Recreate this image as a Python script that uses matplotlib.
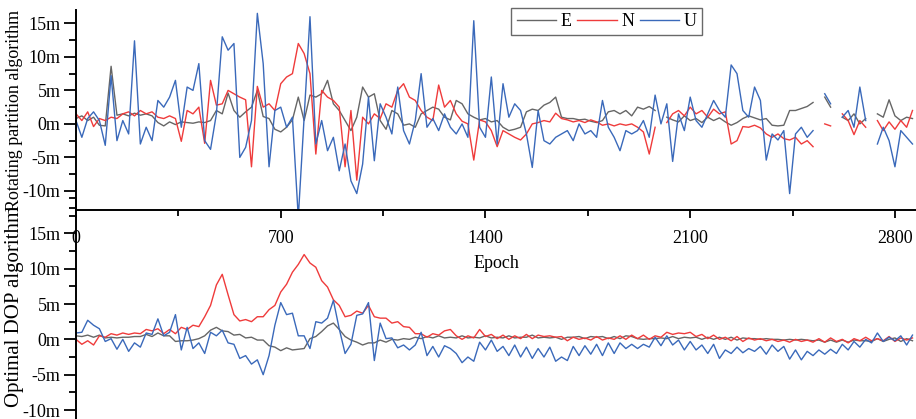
import numpy as np
import matplotlib
matplotlib.use("Agg")
import matplotlib.pyplot as plt
from matplotlib.ticker import MultipleLocator, FuncFormatter

plt.rcParams['font.family'] = 'Liberation Serif'
plt.rcParams['font.size'] = 13

nan = np.nan

# one sample every 20 epochs
epoch = np.arange(0, 2880, 20)

# rotating partition algorithm, E / N / U error in metres
e_rot = [0.8, 1.2, 0.5, 1.0, -0.2, -0.3, 8.6, 1.3, 1.5, 1.2,
         1.6, 1.3, 1.5, 1.2, 0.2, -0.3, 0.3, -0.1, 0.3, 0.2,
         0.1, 0.3, 0.2, 0.5, 2.0, 1.5, 4.6, 2.0, 1.0, 1.8,
         2.5, 5.0, 1.1, 0.8, -0.8, -1.2, -0.5, 0.6, 4.0, 0.5,
         4.3, 4.0, 4.5, 6.5, 3.0, 2.0, 0.5, -1.0, 1.0, 5.5,
         4.0, 4.5, 0.5, -0.8, 2.0, 1.5, -0.2, 0.0, -0.5, 1.5,
         2.0, 2.5, 2.2, 1.0, 0.6, 3.5, 3.0, 1.5, 1.0, 0.6,
         0.8, 0.3, 0.5, -0.5, -1.0, -0.8, -0.5, 1.8, 2.2, 2.0,
         2.8, 3.2, 4.0, 1.0, 0.8, 0.8, 0.6, 0.7, 0.4, 0.2,
         0.5, 1.8, 2.0, 1.5, 2.0, 1.2, 2.5, 2.2, 2.6, 2.0,
         nan, 1.0, 0.6, 0.3, 1.2, 0.5, 0.8, 0.2, 1.0, 0.5,
         0.9, 0.3, -0.2, 0.2, 0.8, 1.2, 0.9, 0.6, 0.8, -0.2,
         -0.3, -0.2, 2.0, 2.0, 2.3, 2.6, 3.2, nan, 4.0, 2.5,
         nan, 1.0, 0.5, 1.5, 0.0, 0.8, nan, 1.5, 1.0, 3.6,
         1.2, 0.5, 1.0, 0.8]
n_rot = [1.5, 0.5, 1.8, -0.4, 0.8, 0.5, 1.0, 0.8, 1.5, 1.8,
         1.2, 2.0, 1.5, 1.8, 1.0, 0.8, 1.2, 0.8, -2.6, 2.0,
         1.5, 2.5, -2.9, 6.5, 2.8, 3.0, 5.0, 4.5, 4.0, 3.6,
         -6.4, 5.6, 2.5, 3.0, 2.0, 6.0, 7.0, 7.5, 12.0, 10.5,
         7.5, -4.5, 5.0, 4.0, 3.5, 2.5, -6.4, 2.0, -8.4, 1.0,
         0.0, 1.5, 0.8, 3.0, 2.5, 5.0, 6.0, 4.0, 3.5, 2.0,
         1.0, 0.5, 5.8, 2.5, 3.5, 1.5, 0.4, 0.0, -5.4, 0.6,
         0.3, -1.0, -3.4, -1.0, -1.5, -2.0, -2.4, -1.5, 0.0, 0.2,
         0.5, 0.3, 1.6, 0.8, 0.6, 0.3, 0.5, 0.2, 0.6, 0.3,
         -0.2, 0.0, -0.3, 0.0, -0.2, 0.0, -0.5, -1.2, -4.5, -0.5,
         nan, 0.2, 1.5, 2.0, 1.2, 2.5, 1.5, 2.0, 1.0, 2.2,
         1.5, 1.8, -3.0, -2.5, -0.4, -0.5, -0.2, -0.6, -1.5, -2.0,
         -1.5, -2.2, -2.4, -2.0, -3.0, -2.5, -3.4, nan, 0.0, -0.3,
         nan, 1.5, 0.5, -1.6, 0.5, -0.5, nan, 0.5, -1.0, 0.3,
         -0.8, 0.5, -0.5, 2.0]
u_rot = [0.5, -2.0, 0.8, 1.8, 0.5, -3.2, 7.2, -2.5, 0.5, -1.5,
         12.4, -3.0, -0.5, -2.5, 3.5, 2.5, 4.0, 6.5, -0.5, 5.5,
         5.0, 9.0, -2.5, -3.8, 1.5, 13.0, 11.0, 12.0, -5.0, -3.5,
         0.5, 16.5, 9.0, -6.4, 2.0, 2.5, -0.5, 1.0, -14.0, 1.0,
         16.0, -3.0, 0.5, -4.0, -2.0, -7.0, -3.0, -8.5, -10.4, -6.0,
         4.0, -5.5, 3.0, 1.0, -1.5, 5.5, -1.0, -3.0, 0.5, 7.5,
         -0.5, 0.8, -1.0, 1.5, -0.5, -1.5, 0.0, -2.0, 15.4, -0.5,
         -2.0, 7.0, -3.0, 6.0, 1.0, 3.0, 2.0, -1.5, -6.5, 2.0,
         -2.5, -3.0, -2.0, -1.5, -1.0, -2.5, 0.0, -1.5, -1.0, -2.0,
         3.5, -0.5, -2.0, -4.0, -1.0, -1.5, -1.0, 0.5, -2.0, 4.3,
         0.0, 3.0, -5.6, 1.5, -1.0, 4.0, 0.5, -0.5, 1.5, 3.5,
         2.0, 1.0, 8.8, 7.5, 2.0, 1.0, 5.5, 3.5, -5.4, -1.5,
         -2.4, -1.0, -10.4, -1.5, -0.5, -2.0, -1.0, nan, 4.5, 3.0,
         nan, 1.0, 2.0, -0.5, 5.5, 0.5, nan, -3.0, -0.5, -2.5,
         -6.4, -1.0, -2.0, -3.0]

# optimal DOP algorithm, E / N / U error in metres
e_dop = [0.5, 0.4, 0.6, 0.3, 0.6, 0.2, 0.3, 0.2, 0.3, 0.3,
         0.4, 0.4, 0.7, 0.4, 0.9, 0.5, 0.5, -0.3, -0.2, -0.2,
         -0.1, 0.1, 0.5, 1.3, 1.7, 1.2, 1.1, 0.6, 0.7, 0.2,
         0.3, -0.1, -0.1, -0.9, -1.1, -1.6, -1.2, -1.5, -1.4, -1.3,
         0.1, 0.4, 1.1, 1.9, 2.3, 1.4, 0.4, -0.1, -0.4, -0.8,
         -0.5, -0.5, -0.1, -0.4, 0.0, -0.1, 0.1, 0.0, 0.3, 0.1,
         0.4, 0.2, 0.5, 0.2, 0.3, 0.2, 0.5, 0.2, 0.3, 0.2,
         0.5, 0.2, 0.3, 0.2, 0.5, 0.2, 0.3, 0.3, 0.6, 0.2,
         0.3, 0.2, 0.3, 0.0, 0.3, 0.3, 0.4, 0.1, 0.4, 0.3,
         0.4, 0.1, 0.4, 0.1, 0.5, 0.4, 0.1, 0.0, 0.1, 0.1,
         0.2, 0.1, 0.4, 0.1, 0.3, 0.2, 0.3, 0.0, 0.3, 0.0,
         0.3, 0.0, 0.3, -0.1, 0.2, 0.1, 0.1, 0.0, 0.1, 0.0,
         0.0, -0.1, 0.0, -0.1, 0.0, -0.1, -0.2, -0.1, -0.4, -0.1,
         -0.4, -0.1, -0.4, -0.1, -0.2, -0.2, -0.3, 0.1, -0.3, 0.0,
         0.2, -0.3, 0.1, -0.2]
n_dop = [0.0, -0.7, -0.2, -0.8, 0.5, 0.3, 0.8, 0.6, 0.9, 0.7,
         0.9, 0.8, 1.4, 1.2, 1.5, 0.8, 1.4, 0.8, 1.7, 1.4,
         2.0, 1.8, 3.2, 4.8, 7.7, 9.2, 6.3, 3.5, 2.6, 2.8,
         2.5, 3.2, 3.2, 4.2, 4.8, 6.7, 7.8, 9.5, 10.6, 12.0,
         10.8, 10.2, 8.3, 7.4, 5.6, 4.8, 3.2, 3.4, 4.0, 3.7,
         4.8, 3.2, 3.0, 3.0, 2.3, 2.5, 1.8, 1.7, 0.8, 0.8,
         0.3, 0.8, 0.6, 1.2, 1.4, 0.5, 0.0, 0.5, 0.2, 1.4,
         0.4, 0.7, 0.1, 0.6, 0.0, 0.5, 0.1, 0.7, 0.1, 0.6,
         0.4, 0.5, 0.3, 0.4, -0.2, 0.3, 0.0, 0.2, -0.1, 0.4,
         -0.1, 0.2, 0.0, 0.5, 0.0, 0.6, 0.1, 0.6, 0.0, 0.5,
         0.3, 1.0, 0.7, 0.9, 0.8, 1.0, 0.4, 0.7, 0.1, 0.6,
         0.0, 0.3, -0.2, 0.4, -0.3, 0.2, -0.1, 0.1, -0.2, 0.0,
         -0.3, -0.1, -0.4, 0.0, -0.3, -0.1, -0.4, 0.1, -0.4, 0.2,
         -0.3, 0.0, -0.5, 0.1, -0.2, 0.3, -0.2, 0.1, -0.2, 0.4,
         -0.3, 0.2, -0.1, 0.2]
u_dop = [0.9, 1.0, 2.7, 2.0, 1.5, -0.3, 0.1, -1.4, 0.0, -1.7,
         -0.5, -1.1, 0.9, 0.7, 2.9, 0.5, 1.0, 3.5, -1.5, 1.7,
         -1.3, -0.5, -2.0, 1.0, 0.5, 1.3, -0.5, -0.7, -2.7, -2.3,
         -3.5, -2.9, -5.0, -2.3, 2.0, 5.2, 3.5, 3.7, 0.5, 0.5,
         -1.3, 2.5, 2.3, 3.0, 5.5, 1.5, -2.0, -0.7, 3.4, 3.6,
         5.2, -3.0, 2.3, 0.1, 0.2, -1.2, -0.8, -1.5, -0.8, 1.0,
         -2.3, -1.0, -2.5, -0.9, -1.3, -2.0, -3.3, -2.5, -3.1, -0.4,
         -1.5, -0.1, -1.7, -1.0, -2.3, -0.8, -2.5, -1.1, -2.7, -1.3,
         -2.5, -1.1, -3.1, -2.5, -3.0, -1.0, -2.3, -0.9, -2.1, -0.7,
         -2.3, -0.5, -2.0, -0.5, -1.3, -0.7, -1.3, -0.7, -1.1, 0.3,
         -0.9, 0.5, -0.8, -0.1, -1.5, -0.3, -1.5, -0.8, -2.0, -0.7,
         -2.7, -1.5, -2.0, -1.1, -1.9, -1.3, -1.7, -1.0, -2.1, -0.8,
         -1.7, -1.0, -2.8, -1.5, -2.9, -1.7, -2.3, -1.5, -2.1, -1.4,
         -2.0, -0.7, -1.5, -0.3, -1.1, 0.0, -0.5, 0.9, -0.3, 0.3,
         -0.2, 0.5, -0.8, 0.6]

labels = ['E', 'N', 'U']
colors = ['#666666', '#ef3b3b', '#3a69ba']
ticks_x = [0, 700, 1400, 2100, 2800]

fig = plt.figure(figsize=(9.16, 4.19), dpi=100)
W, H = 916, 419
ax2 = fig.add_axes([76 / W, 0, 840 / W, 221 / H])
ax1 = fig.add_axes([76 / W, 209 / H, 840 / W, 200 / H])

for ax, series in ((ax1, (e_rot, n_rot, u_rot)), (ax2, (e_dop, n_dop, u_dop))):
    for vals, lab, col in zip(series, labels, colors):
        ax.plot(epoch, vals, color=col, lw=1.0, label=lab)
    ax.patch.set_alpha(0)
    ax.set_xlim(0, 2872)
    for s in ('top', 'right'):
        ax.spines[s].set_visible(False)
    ax.spines['left'].set_linewidth(1.4)
    ax.yaxis.set_major_locator(MultipleLocator(5))
    ax.yaxis.set_minor_locator(MultipleLocator(2.5))
    ax.yaxis.set_major_formatter(FuncFormatter(lambda v, p: f'{v:g}m'))
    ax.tick_params(axis='y', which='major', direction='out', length=9, width=1.3, pad=2)
    ax.tick_params(axis='y', which='minor', direction='out', length=5, width=1.3)

ax1.set_ylim(-12.85, 17.0)
ax1.set_yticks([-10, -5, 0, 5, 10, 15])
ax1.spines['bottom'].set_linewidth(1.4)
ax1.set_xticks(ticks_x)
ax1.xaxis.set_minor_locator(MultipleLocator(350))
ax1.tick_params(axis='x', which='major', direction='out', length=6, width=1.3, pad=8.5)
ax1.tick_params(axis='x', which='minor', direction='out', length=4, width=1.3)
ax1.set_xlabel('Epoch', labelpad=5.5)
ax1.set_ylabel('Rotating partition algorithm')
ax1.yaxis.set_label_coords(-0.063, 0.5)

ax2.set_ylim(-11.27, 20)
ax2.set_yticks([-10, -5, 0, 5, 10, 15])
ax2.spines['bottom'].set_visible(False)
ax2.set_xticks([])
ax2.set_ylabel('Optimal DOP algorithm', fontsize=15)
ax2.yaxis.set_label_coords(-0.062, 0.51)

leg = ax1.legend(loc='upper left', bbox_to_anchor=(0.518, 1.012), ncol=3,
                 frameon=True, fancybox=False, edgecolor='#444444',
                 handlelength=2.2, handletextpad=0.25, columnspacing=0.3,
                 borderpad=0.3, borderaxespad=0)
leg.get_frame().set_linewidth(1.0)

fig.savefig('out.png', dpi=100)
